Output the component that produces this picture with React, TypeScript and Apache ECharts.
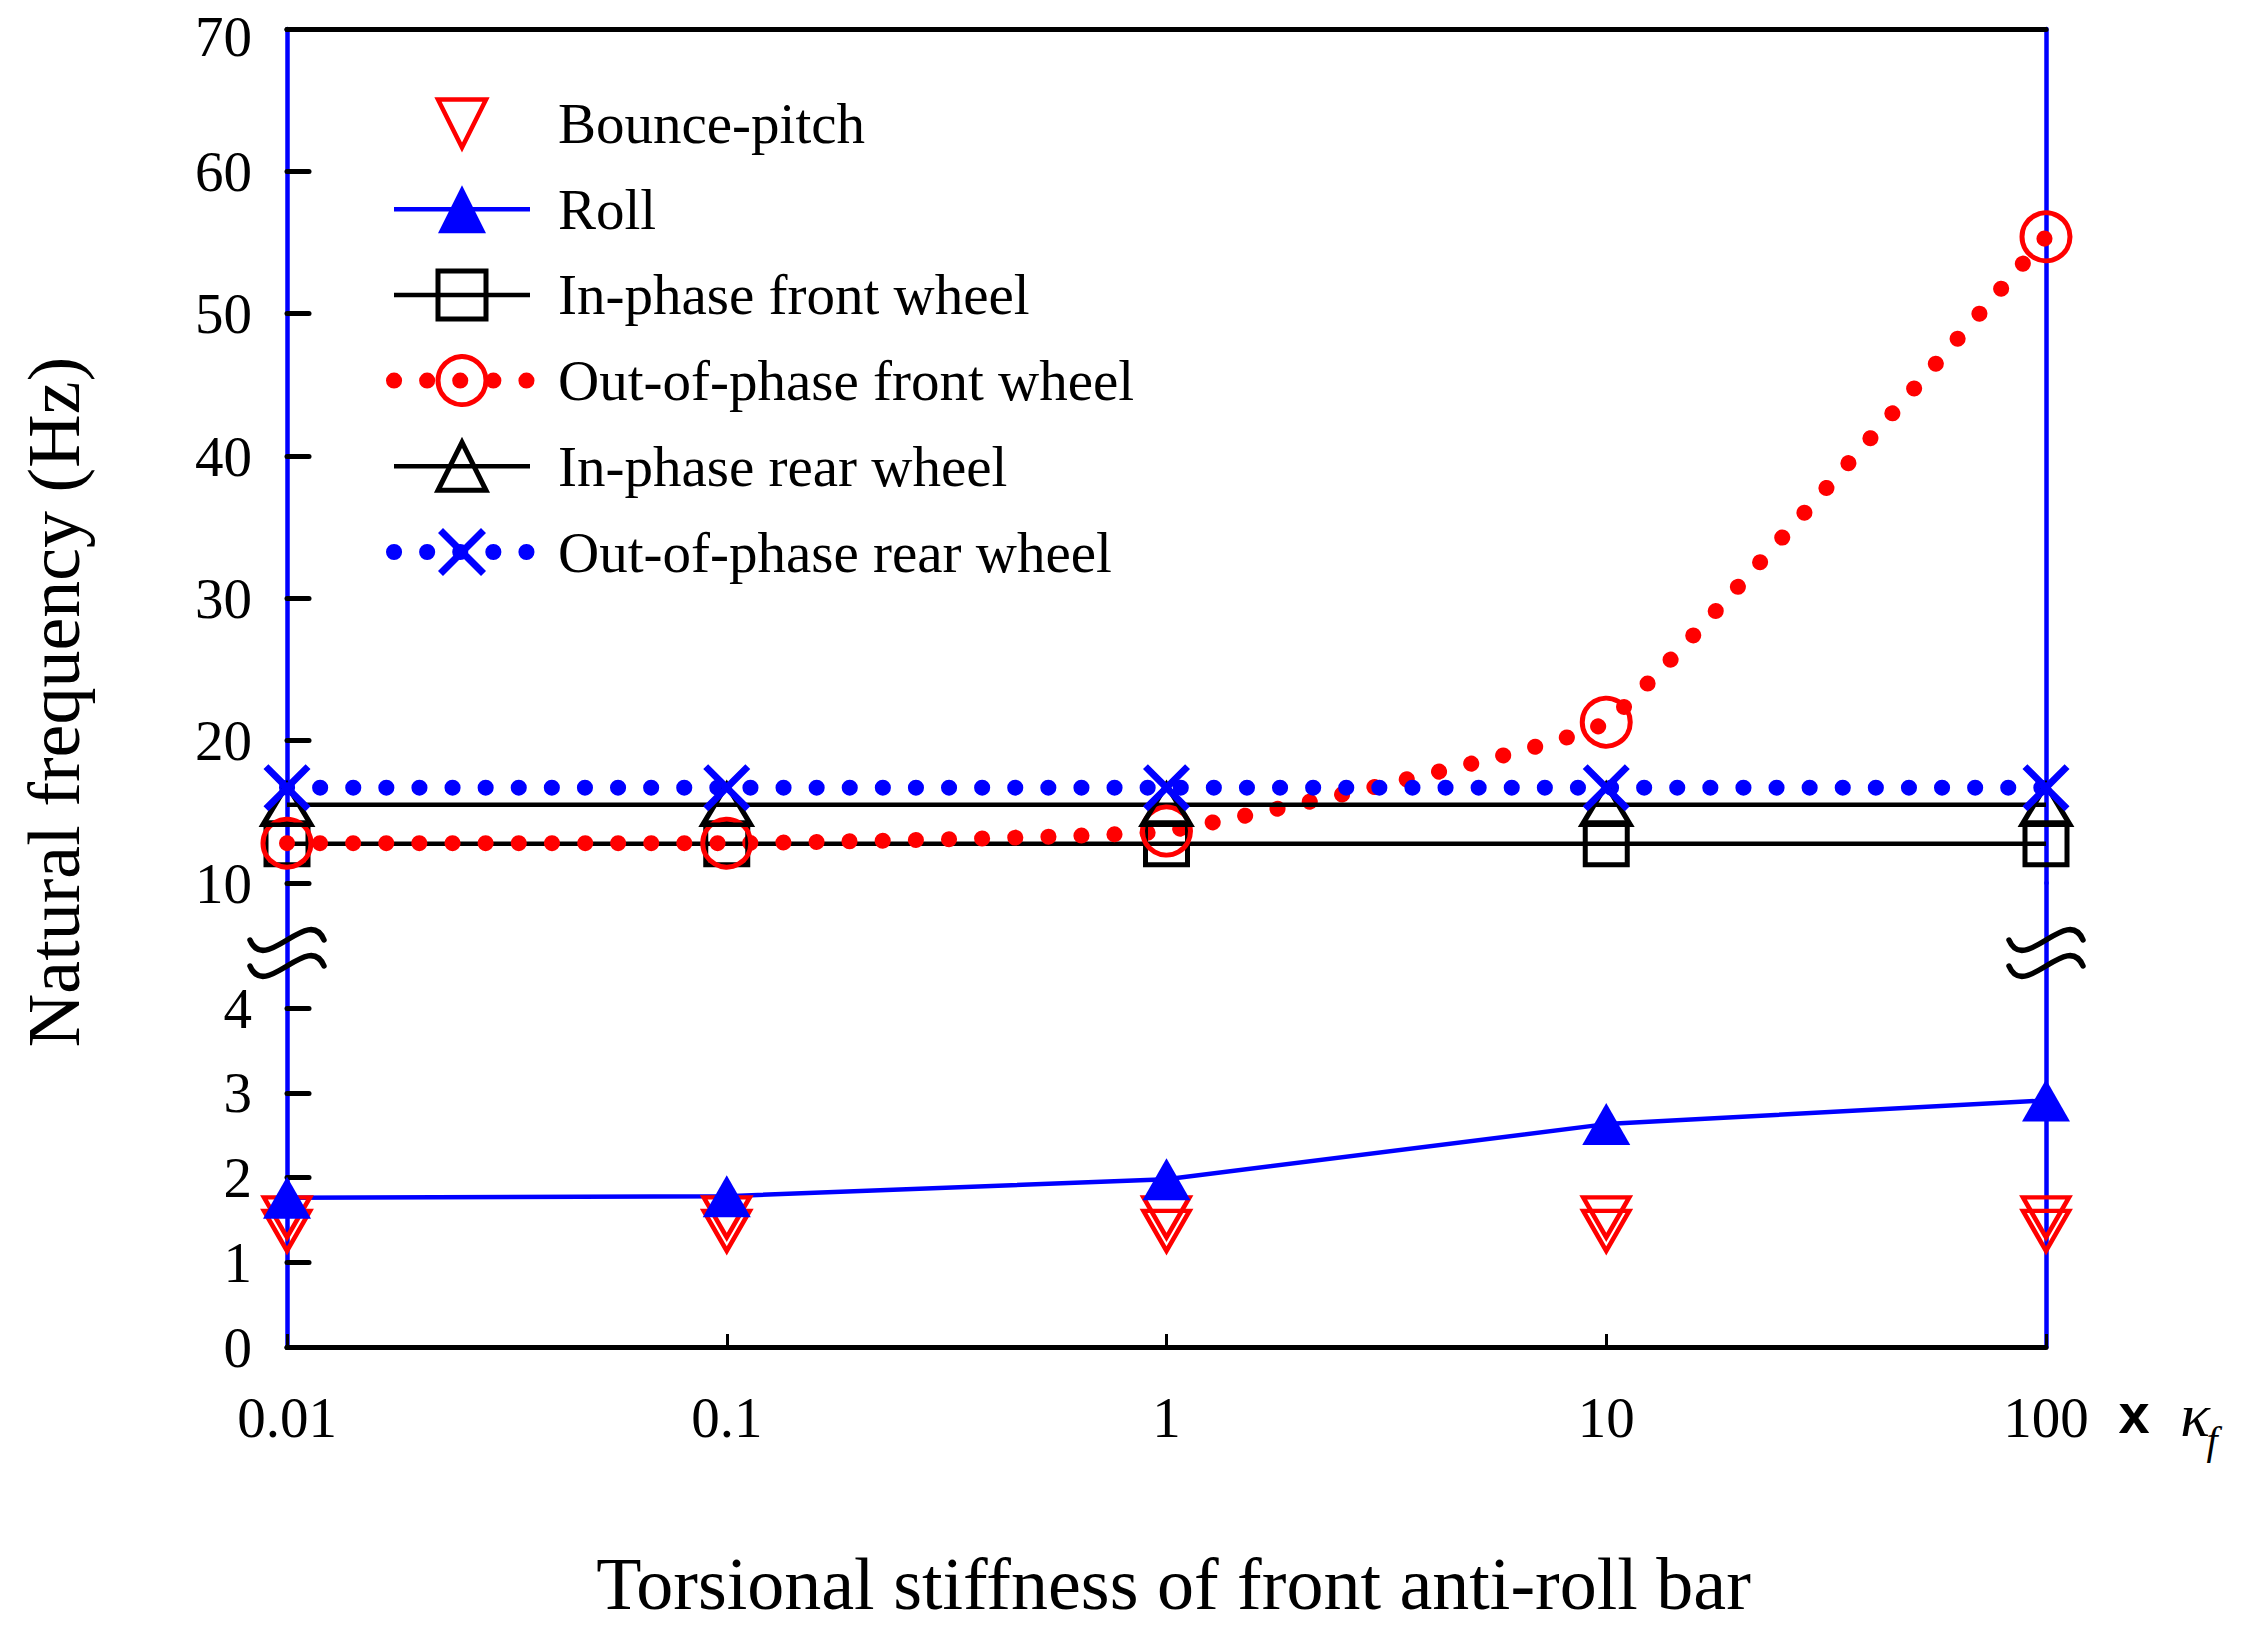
import React, { useEffect, useRef } from 'react';
import * as echarts from 'echarts';

// front anti-roll bar stiffness, in multiples of kappa_f
const stiffness = [0.01, 0.1, 1, 10, 100];
const bounceHz = [1.37, 1.37, 1.37, 1.37, 1.37];
const pitchHz = [1.53, 1.53, 1.53, 1.53, 1.53];
const rollHz = [1.76, 1.78, 1.98, 2.63, 2.91];
const inPhaseFrontHz = [12.75, 12.75, 12.75, 12.75, 12.75];
const outPhaseFrontHz = [12.8, 12.8, 13.65, 21.3, 55.4];
const inPhaseRearHz = [15.5, 15.5, 15.5, 15.5, 15.5];
const outPhaseRearHz = [16.7, 16.7, 16.7, 16.7, 16.7];
const lowerTicks = [0, 1, 2, 3, 4];

const seriesNames = [
  'Bounce-pitch',
  'Roll',
  'In-phase front wheel',
  'Out-of-phase front wheel',
  'In-phase rear wheel',
  'Out-of-phase rear wheel',
];

const W = 2241;
const H = 1631;
const LEFT = 287;
const RIGHT = 2046;
const TOP = 29;
const SPLIT = 883; // y of 10 Hz, where the upper panel ends
const BOTTOM = 1347;
const Y4 = 1008; // y of 4 Hz
const LOWER_MAX = (4 * (BOTTOM - SPLIT)) / (BOTTOM - Y4);

const SERIF = "'Times New Roman', 'Liberation Serif', serif";
const RED = '#ff0000';
const BLUE = '#0000ff';
const HOLLOW = 'rgba(0,0,0,0)';
const CROSS = 'path://M0,5 L5,0 L24,19 L43,0 L48,5 L29,24 L48,43 L43,48 L24,29 L5,48 L0,43 L19,24 Z';

const pairs = (ys: number[]) => stiffness.map((x, i) => [x, ys[i]]);

function squiggle(cx: number, cy: number) {
  return {
    type: 'bezierCurve',
    z: 100,
    x: cx,
    y: cy,
    shape: { x1: -37, y1: 0, cpx1: -22, cpy1: 36, cpx2: 22, cpy2: -36, x2: 37, y2: 0 },
    style: { stroke: '#000', lineWidth: 5.5, fill: null, lineCap: 'round' },
  };
}

export default function App() {
  const ref = useRef<HTMLDivElement | null>(null);

  useEffect(() => {
    document.body.style.margin = '0';
    if (!ref.current) return;
    const chart = echarts.init(ref.current, undefined, { renderer: 'svg' });

    const frameX = (gridIndex: number, bottom: boolean) => ({
      type: 'log',
      logBase: 10,
      gridIndex,
      min: 0.01,
      max: 100,
      position: bottom ? 'bottom' : 'top',
      axisLine: { onZero: false, lineStyle: { color: '#000', width: 5 } },
      axisTick: bottom
        ? { show: true, inside: true, length: 13, lineStyle: { color: '#000', width: 3 } }
        : { show: false },
      axisLabel: bottom
        ? {
            show: true,
            margin: 42,
            color: '#000',
            fontSize: 57,
            fontFamily: SERIF,
            formatter: (v: number) => String(Number(v.toPrecision(4))),
          }
        : { show: false },
      splitLine: { show: false },
      minorTick: { show: false },
      name: bottom ? 'Torsional stiffness of front anti-roll bar' : '',
      nameLocation: 'middle',
      nameGap: 200,
      nameTextStyle: { color: '#000', fontSize: 74, fontFamily: SERIF, padding: [0, 0, 0, 14] },
    });

    const tickStyle = { color: '#000', width: 5, cap: 'round' };
    const labelStyle = { color: '#000', fontSize: 57, fontFamily: SERIF, margin: 35 };

    chart.setOption({
      animation: false,
      backgroundColor: '#fff',
      grid: [
        { left: LEFT, right: W - RIGHT, top: TOP, height: SPLIT - TOP },
        { left: LEFT, right: W - RIGHT, top: SPLIT, height: BOTTOM - SPLIT },
      ],
      xAxis: [frameX(0, false), frameX(1, true)],
      yAxis: [
        {
          type: 'value',
          gridIndex: 0,
          min: 10,
          max: 70,
          interval: 10,
          axisLine: { show: true, onZero: false, lineStyle: { color: BLUE, width: 4.5 } },
          axisTick: { show: true, inside: true, length: 22, lineStyle: tickStyle },
          axisLabel: {
            ...labelStyle,
            // the top label sits a little low so it stays on the page
            formatter: (v: number) => (v === 70 ? `{top|${v}}` : `${v}`),
            rich: { top: { fontSize: 57, fontFamily: SERIF, color: '#000', padding: [14, 0, 0, 0] } },
          },
          splitLine: { show: false },
        },
        {
          type: 'value',
          gridIndex: 0,
          position: 'right',
          min: 10,
          max: 70,
          interval: 10,
          axisLine: { show: true, onZero: false, lineStyle: { color: BLUE, width: 4.5 } },
          axisTick: { show: false },
          axisLabel: { show: false },
          splitLine: { show: false },
        },
        {
          type: 'value',
          gridIndex: 1,
          min: 0,
          max: LOWER_MAX,
          interval: 1,
          axisLine: { show: true, onZero: false, lineStyle: { color: BLUE, width: 4.5 } },
          axisTick: { show: true, inside: true, length: 22, lineStyle: tickStyle, customValues: lowerTicks },
          axisLabel: { ...labelStyle, customValues: lowerTicks },
          splitLine: { show: false },
        },
        {
          type: 'value',
          gridIndex: 1,
          position: 'right',
          min: 0,
          max: LOWER_MAX,
          interval: 1,
          axisLine: { show: true, onZero: false, lineStyle: { color: BLUE, width: 4.5 } },
          axisTick: { show: false },
          axisLabel: { show: false },
          splitLine: { show: false },
        },
      ],
      legend: {
        data: seriesNames,
        orient: 'vertical',
        left: 386,
        top: 95,
        padding: 0,
        itemWidth: 136,
        itemHeight: 60,
        itemGap: 28.7,
        selectedMode: false,
        lineStyle: { width: 'inherit' },
        itemStyle: { borderWidth: 'inherit' },
        textStyle: { color: '#000', fontSize: 57, fontFamily: SERIF, padding: [0, 0, 0, 23] },
      },
      series: [
        {
          name: seriesNames[0],
          type: 'line',
          xAxisIndex: 1,
          yAxisIndex: 2,
          data: [...pairs(pitchHz), ...pairs(bounceHz)],
          symbol: 'triangle',
          symbolRotate: 180,
          symbolSize: [46, 40],
          lineStyle: { width: 0, opacity: 0 },
          itemStyle: { color: HOLLOW, borderColor: RED, borderWidth: 4.5 },
          clip: false,
          emphasis: { disabled: true },
        },
        {
          name: seriesNames[1],
          type: 'line',
          xAxisIndex: 1,
          yAxisIndex: 2,
          data: pairs(rollHz),
          symbol: 'triangle',
          symbolSize: [48, 42],
          lineStyle: { color: BLUE, width: 4.5 },
          itemStyle: { color: BLUE },
          clip: false,
          emphasis: { disabled: true },
        },
        {
          name: seriesNames[2],
          type: 'line',
          xAxisIndex: 0,
          yAxisIndex: 0,
          data: pairs(inPhaseFrontHz),
          symbol: 'rect',
          symbolSize: 42,
          lineStyle: { color: '#000', width: 4.5 },
          itemStyle: { color: HOLLOW, borderColor: '#000', borderWidth: 5 },
          clip: false,
          emphasis: { disabled: true },
        },
        {
          name: seriesNames[3],
          type: 'line',
          xAxisIndex: 0,
          yAxisIndex: 0,
          data: pairs(outPhaseFrontHz),
          smooth: 0.1,
          symbol: 'circle',
          symbolSize: 48,
          lineStyle: { color: RED, width: 16, type: [0.1, 33], cap: 'round' },
          itemStyle: { color: HOLLOW, borderColor: RED, borderWidth: 5 },
          clip: false,
          emphasis: { disabled: true },
        },
        {
          name: seriesNames[4],
          type: 'line',
          xAxisIndex: 0,
          yAxisIndex: 0,
          data: pairs(inPhaseRearHz),
          symbol: 'triangle',
          symbolSize: [48, 40],
          lineStyle: { color: '#000', width: 4.5 },
          itemStyle: { color: HOLLOW, borderColor: '#000', borderWidth: 5 },
          clip: false,
          emphasis: { disabled: true },
        },
        {
          name: seriesNames[5],
          type: 'line',
          xAxisIndex: 0,
          yAxisIndex: 0,
          data: pairs(outPhaseRearHz),
          symbol: CROSS,
          symbolSize: 47,
          lineStyle: { color: BLUE, width: 16, type: [0.1, 33], cap: 'round' },
          itemStyle: { color: BLUE },
          clip: false,
          emphasis: { disabled: true },
        },
      ],
      graphic: [
        squiggle(LEFT, 940),
        squiggle(LEFT, 966),
        squiggle(RIGHT, 940),
        squiggle(RIGHT, 966),
        {
          type: 'text',
          x: 54,
          y: 702,
          rotation: Math.PI / 2,
          style: {
            text: 'Natural frequency (Hz)',
            x: 0,
            y: 0,
            fill: '#000',
            fontSize: 74,
            fontFamily: SERIF,
            align: 'center',
            verticalAlign: 'middle',
          },
        },
        {
          type: 'text',
          x: 2134,
          y: 1413,
          style: {
            text: 'x',
            fill: '#000',
            fontSize: 56,
            fontWeight: 'bold',
            fontFamily: "'Liberation Sans', Arial, sans-serif",
            align: 'center',
            verticalAlign: 'middle',
          },
        },
        {
          type: 'text',
          x: 2195,
          y: 1415,
          style: {
            text: 'κ',
            fill: '#000',
            fontSize: 62,
            fontStyle: 'italic',
            fontFamily: SERIF,
            align: 'center',
            verticalAlign: 'middle',
          },
        },
        {
          type: 'text',
          x: 2212,
          y: 1440,
          style: {
            text: 'f',
            fill: '#000',
            fontSize: 40,
            fontStyle: 'italic',
            fontFamily: SERIF,
            align: 'center',
            verticalAlign: 'middle',
          },
        },
      ],
    });

    return () => chart.dispose();
  }, []);

  return <div ref={ref} style={{ width: W, height: H }} />;
}
